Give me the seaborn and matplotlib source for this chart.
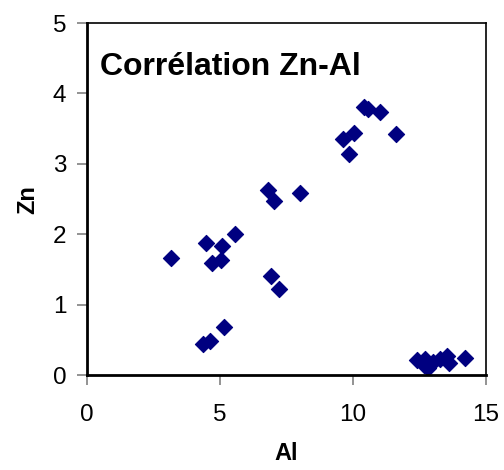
import matplotlib
matplotlib.use("Agg")
import matplotlib.pyplot as plt
import seaborn as sns
import pandas as pd

al = [3.14, 4.47, 5.06, 5.56, 4.71, 5.04, 6.82, 7.03, 8.02, 6.93, 7.22,
      5.16, 4.62, 4.35, 9.63, 10.05, 9.86, 10.42, 10.55, 11.01, 11.63,
      12.41, 12.72, 12.84, 12.66, 13.03, 13.28, 13.54, 13.60, 14.23]
zn = [1.67, 1.88, 1.84, 2.00, 1.60, 1.63, 2.63, 2.47, 2.59, 1.41, 1.22,
      0.69, 0.49, 0.44, 3.36, 3.44, 3.14, 3.81, 3.78, 3.74, 3.42,
      0.22, 0.23, 0.10, 0.15, 0.19, 0.23, 0.27, 0.17, 0.24]
x_ticks = [0, 5, 10, 15]
y_ticks = [0, 1, 2, 3, 4, 5]
title = "Corrélation Zn-Al"

sns.set_style("white")
plt.rcParams['font.family'] = ['Liberation Sans', 'DejaVu Sans']
plt.rcParams['text.color'] = 'black'
plt.rcParams['axes.labelcolor'] = 'black'

df = pd.DataFrame({"Al": al, "Zn": zn})
fig = plt.figure(figsize=(5.04, 4.70), dpi=100)
ax = fig.add_axes([0.173, 0.2015, 0.791, 0.7495])
sns.scatterplot(data=df, x="Al", y="Zn", marker="D", s=68, color="#000080",
                edgecolor="#000080", linewidth=0.8, ax=ax)
ax.set_xlim(0, 15)
ax.set_ylim(0, 5)
ax.set_xticks(x_ticks)
ax.set_yticks(y_ticks)
ax.tick_params(axis='both', direction='out', length=7, width=1.2, color='#808080',
               labelsize=17.5, labelcolor='black',
               bottom=True, left=True, top=False, right=False)
ax.tick_params(axis='x', pad=14)
ax.tick_params(axis='y', pad=8)
for side in ['left', 'bottom']:
    ax.spines[side].set_linewidth(2.0)
    ax.spines[side].set_color('black')
for side in ['top', 'right']:
    ax.spines[side].set_linewidth(1.2)
    ax.spines[side].set_color('black')
ax.set_xlabel("Al", fontsize=17, fontweight='bold', labelpad=11)
ax.set_ylabel("Zn", fontsize=17, fontweight='bold', labelpad=10)
ax.text(0.032, 0.852, title, transform=ax.transAxes, fontsize=23,
        fontweight='bold', ha='left', va='baseline', color='black')
fig.savefig("out.png", dpi=100)
